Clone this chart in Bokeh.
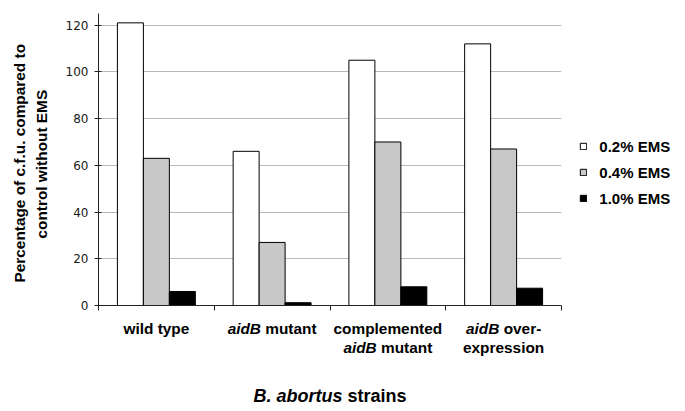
import math
import numpy as np
from bokeh.plotting import figure
from bokeh.models import Range1d, FixedTicker, Legend, LegendItem, ColumnDataSource
from bokeh.layouts import row, column
from bokeh.core.properties import value
from bokeh.embed import file_html
from bokeh.resources import INLINE

# ---------------- data ----------------
categories = ["wild type", "aidB mutant", "complemented aidB mutant", "aidB over-expression"]
series = ["0.2% EMS", "0.4% EMS", "1.0% EMS"]
ems_02 = [121, 66, 105, 112]
ems_04 = [63, 27, 70, 67]
ems_10 = [6, 1.2, 8, 7.4]
y_ticks = [0, 20, 40, 60, 80, 100, 120]

# category labels split in lines of (text, italic) segments
cat_label_lines = [
    [[("wild type", False)]],
    [[("aidB", True), (" mutant", False)]],
    [[("complemented", False)], [("aidB", True), (" mutant", False)]],
    [[("aidB", True), (" over-", False)], [("expression", False)]],
]
x_title = [("B. abortus", True), (" strains", False)]
y_title = ["Percentage of c.f.u. compared to", "control without EMS"]

# ---------------- styling ----------------
FONT = "Liberation Sans"
LAB_FS = 15.4
TITLE_FS = 18
W = {" ": 278, "a": 556, "b": 611, "c": 556, "d": 611, "e": 556, "f": 333, "g": 611,
     "h": 611, "i": 278, "l": 278, "m": 889, "n": 611, "o": 611, "p": 611, "r": 389,
     "s": 556, "t": 333, "u": 611, "v": 556, "w": 778, "x": 556, "y": 556, "B": 722,
     "E": 667, "M": 833, "S": 667, ".": 278, "-": 333, "%": 889}


def tw(s, fs):
    return sum(W.get(c, 556) for c in s) * fs / 1000.0


def blank(fig):
    fig.outline_line_color = None
    fig.background_fill_color = "white"
    fig.border_fill_color = "white"
    return fig


TOP_H = 312
x_range = Range1d(0, 4)

# ---------------- main plot ----------------
p = blank(figure(width=508, height=TOP_H, x_range=x_range, y_range=Range1d(0, 125),
                 output_backend="svg", toolbar_location=None,
                 min_border_left=43, min_border_right=2, min_border_top=13, min_border_bottom=7))

n = len(categories)
centers = np.arange(n) + 0.5
bw = 0.2245
fills = ["#ffffff", "#c8c8c8", "#000000"]
vals = [ems_02, ems_04, ems_10]
for k, (v, fc) in enumerate(zip(vals, fills)):
    p.vbar(x=centers + (k - 1) * bw, top=v, width=bw, bottom=0,
           fill_color=fc, line_color="#000000", line_width=1)

ya = p.yaxis[0]
ya.ticker = FixedTicker(ticks=y_ticks)
ya.major_label_text_font = "DejaVu Sans"
ya.major_label_text_font_size = "12px"
ya.major_label_text_color = "#1a1a1a"
ya.axis_line_color = "#222222"
ya.major_tick_line_color = "#222222"
ya.major_tick_in = 3
ya.major_tick_out = 4
ya.major_label_standoff = 6
ya.minor_tick_line_color = None

xa = p.xaxis[0]
xa.ticker = FixedTicker(ticks=list(range(n + 1)))
xa.major_label_overrides = {i: "" for i in range(n + 1)}
xa.major_label_text_font_size = "0px"
xa.major_label_standoff = 0
xa.axis_line_color = "#222222"
xa.major_tick_line_color = "#222222"
xa.major_tick_in = 0
xa.major_tick_out = 5
xa.minor_tick_line_color = None

p.xgrid.visible = False
p.ygrid.ticker = FixedTicker(ticks=y_ticks)
p.ygrid.grid_line_color = "#bababa"

# ---------------- y title ----------------
YT_W = 55
yt = blank(figure(width=YT_W, height=TOP_H, x_range=Range1d(0, YT_W), y_range=Range1d(0, TOP_H),
                  output_backend="svg", toolbar_location=None, min_border=0,
                  x_axis_type=None, y_axis_type=None))
yt.grid.visible = False
yt.text(x=[18.6, 41.0], y=[TOP_H - 160, TOP_H - 161], text=y_title, angle=math.pi / 2,
        text_align="center", text_baseline="middle", text_font=value(FONT),
        text_font_size=value(f"{LAB_FS}px"), text_font_style=value("bold"), text_color="#000000")

# ---------------- legend ----------------
lg = blank(figure(width=122, height=TOP_H, x_range=Range1d(0, 1), y_range=Range1d(0, 1),
                  output_backend="svg", toolbar_location=None, min_border=0,
                  x_axis_type=None, y_axis_type=None))
lg.grid.visible = False
lrs = [lg.vbar(x=[float("nan")], top=[float("nan")], width=0.1, fill_color=fc,
               line_color="#000000", line_width=1)
       for fc in fills]
legend = Legend(items=[LegendItem(label=s, renderers=[r], index=0) for s, r in zip(series, lrs)],
                location=(16.3, 96.6), orientation="vertical", glyph_width=8, glyph_height=8,
                label_standoff=12, spacing=6, label_height=20, padding=0, margin=0,
                border_line_color=None, background_fill_color=None,
                label_text_font=FONT, label_text_font_style="bold", label_text_font_size="15px",
                label_text_color="#000000")
lg.add_layout(legend, "center")

# ---------------- category labels + x title ----------------
BOT_H = 411 - TOP_H
lb = blank(figure(width=561, height=BOT_H, x_range=x_range, y_range=Range1d(0, BOT_H),
                  output_backend="svg", toolbar_location=None, min_border_left=98,
                  min_border_right=0, min_border_top=0, min_border_bottom=0,
                  x_axis_type=None, y_axis_type=None))
lb.grid.visible = False

segs = {False: dict(x=[], y=[], text=[], off=[], fs=[]), True: dict(x=[], y=[], text=[], off=[], fs=[])}


def add_line(parts, xc, y_img, fs):
    total = sum(tw(t, fs) for t, _ in parts)
    off = -total / 2.0
    for t, it in parts:
        lead = len(t) - len(t.lstrip(" "))
        off += tw(" " * lead, fs)
        txt = t.strip(" ")
        d = segs[it]
        d["x"].append(xc)
        d["y"].append(411 - y_img)
        d["text"].append(txt)
        d["off"].append(off)
        d["fs"].append(f"{fs}px")
        off += tw(txt, fs) + tw(" " * (len(t) - len(t.rstrip(" "))), fs)


line_y = [328, 346.7]
for i, lines in enumerate(cat_label_lines):
    for j, parts in enumerate(lines):
        add_line(parts, float(centers[i]), line_y[j], LAB_FS)
add_line(x_title, 2.0, 395, TITLE_FS)

for it, d in segs.items():
    lb.text(x="x", y="y", text="text", x_offset="off", source=ColumnDataSource(d),
            text_align="left", text_baseline="middle", text_font=value(FONT),
            text_font_size="fs", text_font_style=value("bold italic" if it else "bold"),
            text_color="#000000")

layout = column(row(yt, p, lg), lb)
open("out.html", "w").write(file_html(layout, INLINE))
